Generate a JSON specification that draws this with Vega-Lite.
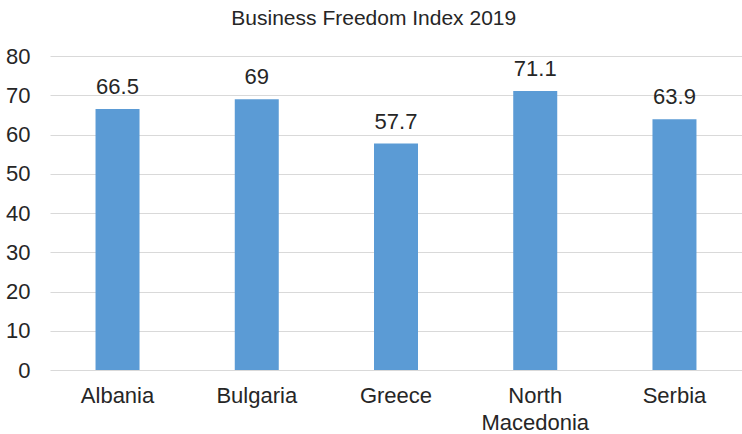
{
  "$schema": "https://vega.github.io/schema/vega-lite/v6.json",
  "width": 692,
  "height": 314,
  "autosize": {"type": "none"},
  "padding": {"left": 50, "top": 56, "right": 0, "bottom": 64},
  "background": "white",
  "title": {
    "text": "Business Freedom Index 2019",
    "font": "Liberation Sans",
    "fontSize": 21,
    "fontWeight": "normal",
    "color": "#262626",
    "anchor": "middle",
    "frame": "bounds",
    "offset": 16
  },
  "config": {
    "view": {"stroke": null},
    "font": "Liberation Sans"
  },
  "data": {
    "values": [
      {"country": "Albania", "value": 66.5},
      {"country": "Bulgaria", "value": 69},
      {"country": "Greece", "value": 57.7},
      {"country": "North Macedonia", "value": 71.1},
      {"country": "Serbia", "value": 63.9}
    ]
  },
  "encoding": {
    "x": {
      "field": "country",
      "type": "nominal",
      "sort": null,
      "scale": {"paddingInner": 0.684, "paddingOuter": 0.327},
      "axis": {
        "title": null,
        "labelAngle": 0,
        "domain": false,
        "ticks": false,
        "labelFont": "Liberation Sans",
        "labelFontSize": 22,
        "labelColor": "#262626",
        "labelPadding": 15,
        "labelLineHeight": 27,
        "labelExpr": "datum.value == 'North Macedonia' ? ['North', 'Macedonia'] : datum.value"
      }
    },
    "y": {
      "field": "value",
      "type": "quantitative",
      "scale": {"domain": [0, 80], "nice": false},
      "axis": {
        "title": null,
        "values": [0, 10, 20, 30, 40, 50, 60, 70, 80],
        "domain": false,
        "ticks": false,
        "grid": true,
        "gridColor": "#d9d9d9",
        "gridWidth": 1,
        "labelFont": "Liberation Sans",
        "labelFontSize": 22,
        "labelColor": "#262626",
        "labelPadding": 20
      }
    }
  },
  "layer": [
    {
      "mark": {"type": "bar", "color": "#5B9BD5"}
    },
    {
      "mark": {
        "type": "text",
        "baseline": "alphabetic",
        "dy": -15,
        "fontSize": 22,
        "font": "Liberation Sans",
        "color": "#262626"
      },
      "encoding": {
        "text": {"field": "value", "type": "quantitative"}
      }
    }
  ]
}
